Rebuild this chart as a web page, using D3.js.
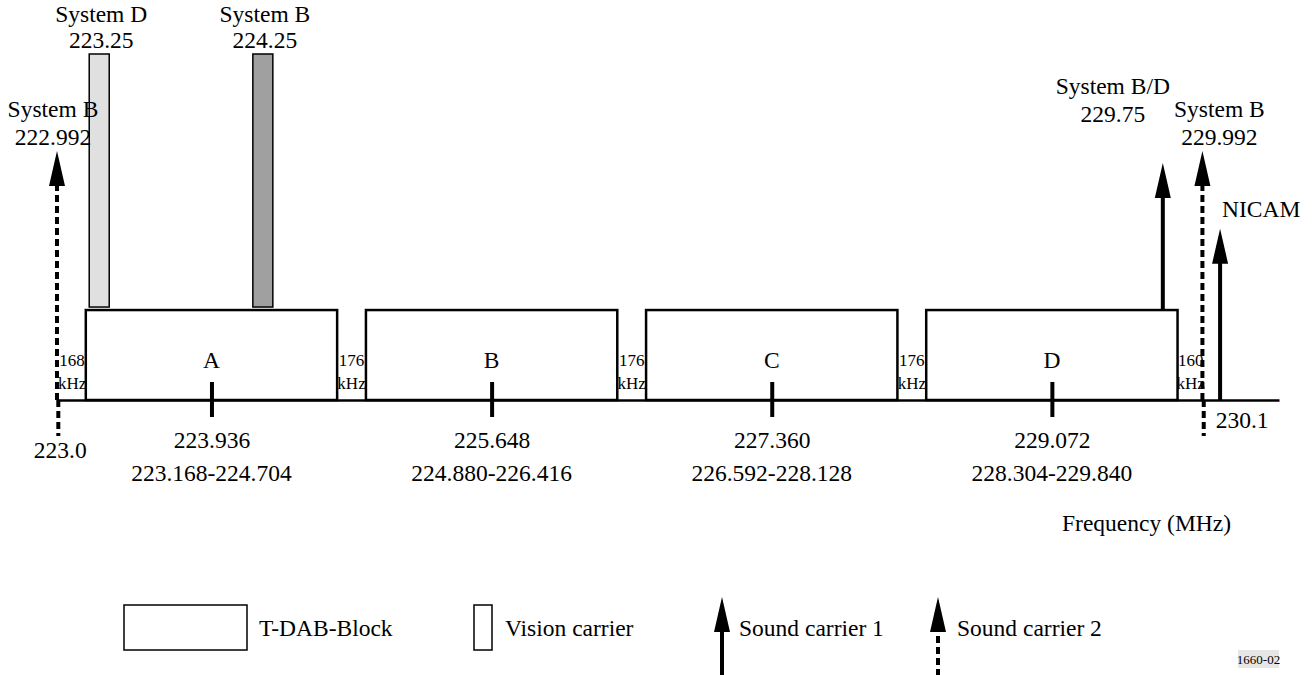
<!DOCTYPE html>
<html>
<head>
<meta charset="utf-8">
<script src="https://cdn.jsdelivr.net/npm/d3@7"></script>
<style>
  html, body { margin: 0; padding: 0; background: #fff; }
  svg { display: block; font-family: "Liberation Serif", "Times New Roman", serif; }
</style>
</head>
<body>
<svg id="chart" width="1313" height="675"></svg>
<script>
// ---------------- data ----------------
const blockNames   = ["A", "B", "C", "D"];
const blockStart   = [223.168, 224.880, 226.592, 228.304];
const blockEnd     = [224.704, 226.416, 228.128, 229.840];
const blockCenter  = [223.936, 225.648, 227.360, 229.072];
const blockCenterLabels = ["223.936", "225.648", "227.360", "229.072"];
const blockRangeLabels  = ["223.168-224.704", "224.880-226.416", "226.592-228.128", "228.304-229.840"];

const gapFrom   = [223.0, 224.704, 226.416, 228.128, 229.840];
const gapTo     = [223.168, 224.880, 226.592, 228.304, 230.0];
const gapKHz    = ["168", "176", "176", "176", "160"];

const visionSystem = ["System D", "System B"];
const visionFreq   = [223.25, 224.25];
const visionLabels = ["223.25", "224.25"];

const soundSystem = ["System B", "System B/D", "System B", "NICAM"];
const soundFreq   = [222.992, 229.75, 229.992, 230.1];
const soundFreqLabels = ["222.992", "229.75", "229.992", "230.1"];
const soundCarrierType = [2, 1, 2, 1];           // 1 = sound carrier 1 (solid), 2 = sound carrier 2 (dashed)
const soundLevel  = [0.72, 0.685, 0.72, 0.495];   // relative level (schematic)

const bandEdges      = [223.0, 230.0];
const bandEdgeLabels = ["223.0", ""];

const visionLevel = 1.0;
const blockLevel  = 0.26;

const legendItems = ["T-DAB-Block", "Vision carrier", "Sound carrier 1", "Sound carrier 2"];
const axisTitle = "Frequency (MHz)";
const figureId = "1660-02";

// ---------------- scales ----------------
const svg = d3.select("#chart");
const x = d3.scaleLinear().domain([222.992, 230.46]).range([57, 1279]);
const y = d3.scaleLinear().domain([0, 1]).range([400, 54]);
const axisY = y(0);

const FS = 23.5;     // main label size
const FSS = 17;      // small gap label size
const ARW = 8, ARH = 35;

function arrowHead(g, cx, tipY) {
  g.append("path")
    .attr("d", `M${cx},${tipY} L${cx - ARW},${tipY + ARH} L${cx + ARW},${tipY + ARH} Z`)
    .attr("fill", "#000");
}

// ---------------- axis ----------------
const axis = d3.axisBottom(x)
  .tickValues(blockCenter)
  .tickFormat((d, i) => blockCenterLabels[i])
  .tickSizeOuter(0)
  .tickSizeInner(17);

// blocks
svg.append("g").selectAll("rect")
  .data(blockNames)
  .join("rect")
  .attr("x", (d, i) => x(blockStart[i]))
  .attr("width", (d, i) => x(blockEnd[i]) - x(blockStart[i]))
  .attr("y", y(blockLevel))
  .attr("height", axisY - y(blockLevel))
  .attr("fill", "#fff")
  .attr("stroke", "#000")
  .attr("stroke-width", 2.5);

// block letters
svg.append("g").selectAll("text")
  .data(blockNames)
  .join("text")
  .attr("x", (d, i) => x(blockCenter[i]))
  .attr("y", 368)
  .attr("text-anchor", "middle")
  .attr("font-size", FS)
  .text(d => d);

const gAxis = svg.append("g")
  .attr("transform", `translate(0,${axisY})`)
  .call(axis);
gAxis.select(".domain").attr("stroke", "#000").attr("stroke-width", 2.5);
gAxis.selectAll(".tick line").attr("y1", -18).attr("y2", 17).attr("stroke", "#000").attr("stroke-width", 4);
gAxis.selectAll(".tick text")
  .attr("y", 48).attr("dy", 0)
  .attr("font-size", FS)
  .attr("font-family", "Liberation Serif, Times New Roman, serif")
  .attr("fill", "#000");
gAxis.attr("font-family", null).attr("font-size", null);

// range labels
svg.append("g").selectAll("text")
  .data(blockRangeLabels)
  .join("text")
  .attr("x", (d, i) => x(blockCenter[i]))
  .attr("y", 481)
  .attr("text-anchor", "middle")
  .attr("font-size", FS)
  .text(d => d);

// gap labels
const gGap = svg.append("g");
gapKHz.forEach((k, i) => {
  const cx = (x(gapFrom[i]) + x(gapTo[i])) / 2;
  gGap.append("text").attr("x", cx).attr("y", 366).attr("text-anchor", "middle")
    .attr("font-size", FSS).text(k);
  gGap.append("text").attr("x", cx).attr("y", 389).attr("text-anchor", "middle")
    .attr("font-size", FSS).text("kHz");
});

// band edge markers (dashed, below axis)
const gEdge = svg.append("g");
bandEdges.forEach((f, i) => {
  gEdge.append("line")
    .attr("x1", x(f)).attr("x2", x(f))
    .attr("y1", axisY).attr("y2", 436)
    .attr("stroke", "#000").attr("stroke-width", 4)
    .attr("stroke-dasharray", "7,4");
  if (bandEdgeLabels[i]) {
    gEdge.append("text").attr("x", x(f) + 2).attr("y", 458)
      .attr("text-anchor", "middle").attr("font-size", FS).text(bandEdgeLabels[i]);
  }
});

// vision carriers
const visionFill = ["#e0e0e0", "#a0a0a0"];
const gVis = svg.append("g");
visionFreq.forEach((f, i) => {
  gVis.append("rect")
    .attr("x", x(f) - 10).attr("width", 20)
    .attr("y", y(visionLevel)).attr("height", y(blockLevel) - 3 - y(visionLevel))
    .attr("fill", visionFill[i]).attr("stroke", "#000").attr("stroke-width", 1.5);
  gVis.append("text").attr("x", x(f) + 2).attr("y", 22).attr("text-anchor", "middle")
    .attr("font-size", FS).text(visionSystem[i]);
  gVis.append("text").attr("x", x(f) + 2).attr("y", 48).attr("text-anchor", "middle")
    .attr("font-size", FS).text(visionLabels[i]);
});

// sound carriers
const gSnd = svg.append("g");
const labelDx = [-4, -50, 17, 0];
soundFreq.forEach((f, i) => {
  const cx = x(f);
  const inBlock = blockStart.some((s, j) => f >= s && f <= blockEnd[j]);
  const baseY = inBlock ? y(blockLevel) : axisY;
  const tipY = y(soundLevel[i]);
  const line = gSnd.append("line")
    .attr("x1", cx).attr("x2", cx)
    .attr("y1", baseY).attr("y2", tipY + ARH - 1)
    .attr("stroke", "#000").attr("stroke-width", 4);
  if (soundCarrierType[i] === 2) line.attr("stroke-dasharray", "7,4");
  arrowHead(gSnd, cx, tipY);
  if (soundSystem[i] === "NICAM") {
    gSnd.append("text").attr("x", cx + 2).attr("y", tipY - 12)
      .attr("font-size", FS).text(soundSystem[i]);
    gSnd.append("text").attr("x", cx + 22).attr("y", 428).attr("text-anchor", "middle")
      .attr("font-size", FS).text(soundFreqLabels[i]);
  } else {
    const topBase = soundSystem[i] === "System B/D" ? tipY - 41 : tipY - 6;
    gSnd.append("text").attr("x", cx + labelDx[i]).attr("y", topBase - 28)
      .attr("text-anchor", "middle").attr("font-size", FS).text(soundSystem[i]);
    gSnd.append("text").attr("x", cx + labelDx[i]).attr("y", topBase)
      .attr("text-anchor", "middle").attr("font-size", FS).text(soundFreqLabels[i]);
  }
});

// axis title
svg.append("text").attr("x", 1062).attr("y", 531).attr("font-size", FS).text(axisTitle);

// ---------------- legend ----------------
const gL = svg.append("g");
gL.append("rect").attr("x", 124).attr("y", 605).attr("width", 123).attr("height", 45)
  .attr("fill", "#fff").attr("stroke", "#000").attr("stroke-width", 1.5);
gL.append("text").attr("x", 259).attr("y", 636).attr("font-size", FS).text(legendItems[0]);

gL.append("rect").attr("x", 474).attr("y", 605).attr("width", 18).attr("height", 45)
  .attr("fill", "#fff").attr("stroke", "#000").attr("stroke-width", 1.5);
gL.append("text").attr("x", 505).attr("y", 636).attr("font-size", FS).text(legendItems[1]);

gL.append("line").attr("x1", 722).attr("x2", 722).attr("y1", 676).attr("y2", 630)
  .attr("stroke", "#000").attr("stroke-width", 4);
arrowHead(gL, 722, 597);
gL.append("text").attr("x", 739).attr("y", 636).attr("font-size", FS).text(legendItems[2]);

gL.append("line").attr("x1", 938).attr("x2", 938).attr("y1", 676).attr("y2", 630)
  .attr("stroke", "#000").attr("stroke-width", 4).attr("stroke-dasharray", "7,4");
arrowHead(gL, 938, 597);
gL.append("text").attr("x", 957).attr("y", 636).attr("font-size", FS).text(legendItems[3]);

// figure id
gL.append("rect").attr("x", 1238).attr("y", 650).attr("width", 41).attr("height", 18).attr("fill", "#e6e6e6");
gL.append("text").attr("x", 1258.5).attr("y", 664).attr("text-anchor", "middle")
  .attr("font-size", 13).text(figureId);
</script>
</body>
</html>
